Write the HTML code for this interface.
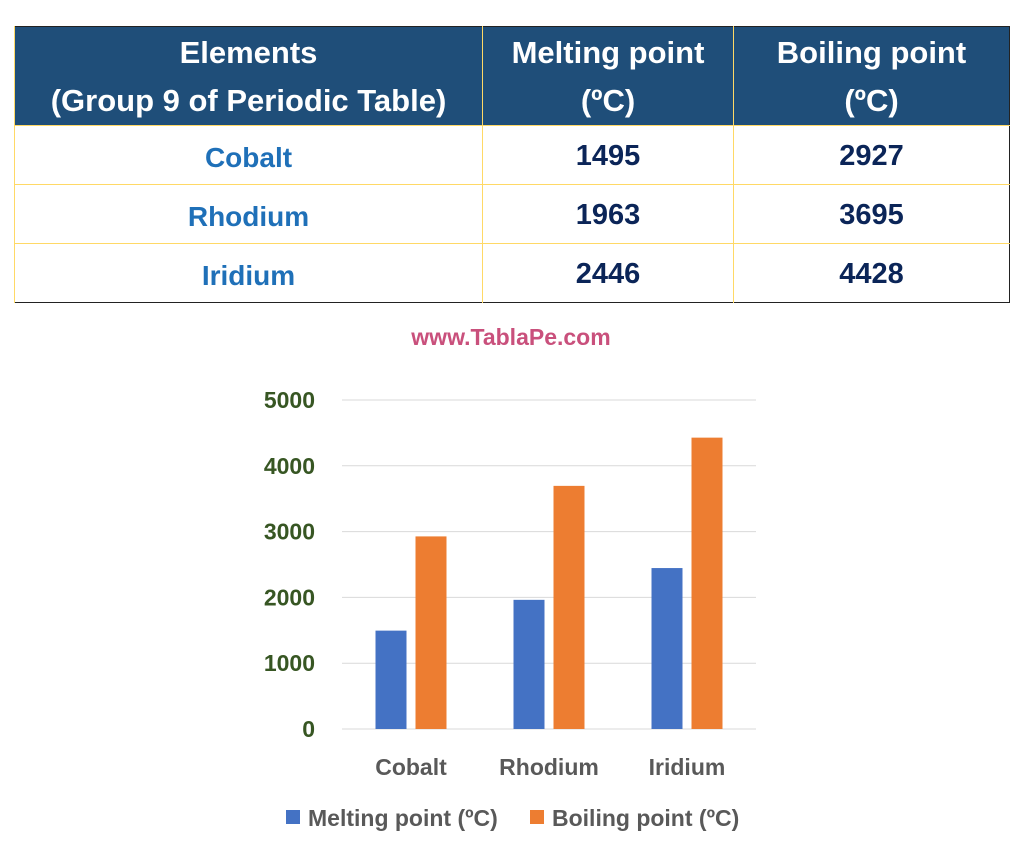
<!DOCTYPE html>
<html><head><meta charset="utf-8"><style>
body{margin:0;width:1028px;height:845px;background:#fff;font-family:"Liberation Sans",sans-serif;position:relative;overflow:hidden}
table{position:absolute;left:14px;top:26px;border-collapse:collapse;width:996px;font-weight:bold;border:1px solid #222}
th{background:#1F4E79;color:#fff;font-size:31px;line-height:48px;height:95px;padding:2px 0 0 0;border-left:1px solid #FFD966;white-space:nowrap;box-sizing:border-box}
td{height:53px;font-size:28px;text-align:center;border-top:1px solid #FFD966;border-left:1px solid #FFD966;color:#0B2558;padding:5px 0 0 0}
td.num{font-size:29px;padding-top:2px;height:56px}
td.el{color:#1F70B8}
</style></head><body>
<table>
<tr><th style="width:468px">Elements<br>(Group 9 of Periodic Table)</th><th style="width:251px">Melting point<br>(ºC)</th><th>Boiling point<br>(ºC)</th></tr>
<tr><td class="el">Cobalt</td><td class="num">1495</td><td class="num">2927</td></tr>
<tr><td class="el">Rhodium</td><td class="num">1963</td><td class="num">3695</td></tr>
<tr><td class="el">Iridium</td><td class="num">2446</td><td class="num">4428</td></tr>
</table>
<svg id="chart" width="1028" height="845" style="position:absolute;left:0;top:0" font-family="Liberation Sans, sans-serif" font-weight="bold">
<text x="511" y="345" text-anchor="middle" font-size="23" fill="#C9507C">www.TablaPe.com</text>
</svg>
<script>
const categories=["Cobalt","Rhodium","Iridium"];
const melting=[1495,1963,2446];
const boiling=[2927,3695,4428];
const yTicks=[0,1000,2000,3000,4000,5000];
const seriesNames=["Melting point (ºC)","Boiling point (ºC)"];
const svg=document.getElementById('chart');const NS='http://www.w3.org/2000/svg';
const x0=342,x1=756,yb=729,yt=400,ymax=5000;
const y=v=>yb-(v/ymax)*(yb-yt);
const band=(x1-x0)/categories.length;
const cx=i=>x0+band*(i+0.5);
function mk(t,a,txt){const e=document.createElementNS(NS,t);for(const k in a)e.setAttribute(k,a[k]);if(txt!==undefined)e.textContent=txt;svg.appendChild(e);return e;}
yTicks.forEach(v=>{
 const l=mk('line',{x1:x0,x2:x1,y1:y(v),y2:y(v),stroke:'#D9D9D9','stroke-width':1});
 
 
 const t=mk('text',{x:315,y:y(v)+8,'text-anchor':'end','font-size':23,fill:'#375623'},v);
 
 
});
const bw=31,gap=9;
categories.forEach((c,i)=>{
 const b1=mk('rect',{x:cx(i)-gap/2-bw,y:y(melting[i]),width:bw,height:yb-y(melting[i]),fill:'#4472C4'});
 
 
 const b2=mk('rect',{x:cx(i)+gap/2,y:y(boiling[i]),width:bw,height:yb-y(boiling[i]),fill:'#ED7D31'});
 
 
 const t=mk('text',{x:cx(i),y:775,'text-anchor':'middle','font-size':23,fill:'#595959'},c);
 
 
});
const cols=['#4472C4','#ED7D31'],lx=[286,530];
seriesNames.forEach((n,i)=>{
 const r=mk('rect',{x:lx[i],y:810,width:14,height:14,fill:cols[i]});
 
 
 const t=mk('text',{x:lx[i]+22,y:826,'font-size':23,fill:'#595959'},n);
 
 
});
</script>
</body></html>
